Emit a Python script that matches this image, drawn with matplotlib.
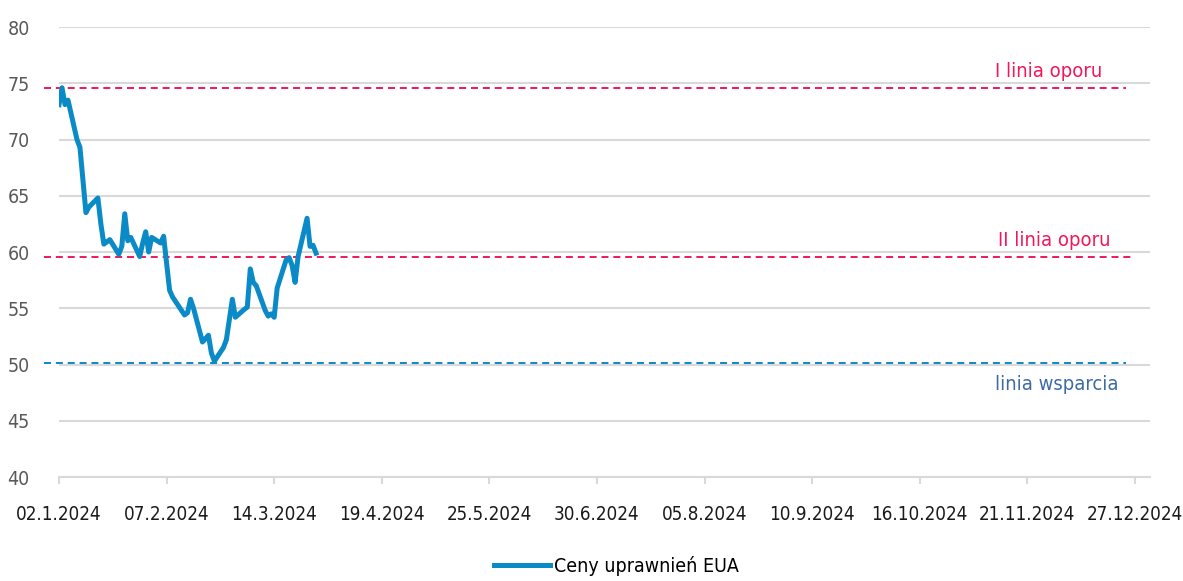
#!/usr/bin/env python3
"""EUA allowance prices with support / resistance lines."""

import matplotlib
matplotlib.use('Agg')
import matplotlib.pyplot as plt
import matplotlib.dates as mdates
import pandas as pd

# EUA prices, trading days 02.01.2024 - 28.03.2024
dates = pd.bdate_range('2024-01-02', '2024-03-28')
prices = [
    73.1, 74.6, 73.1, 73.5,                      # 2-5 Jan
    70.0, 69.3, 66.4, 63.5, 64.0,                # 8-12 Jan
    64.8, 62.5, 60.7, 60.9, 61.1,                # 15-19 Jan
    59.8, 60.5, 63.4, 61.0, 61.3,                # 22-26 Jan
    59.6, 60.8, 61.8, 60.0, 61.3,                # 29 Jan - 2 Feb
    60.8, 61.4, 59.0, 56.6, 56.0,                # 5-9 Feb
    54.8, 54.4, 54.6, 55.8, 55.0,                # 12-16 Feb
    52.0, 52.3, 52.6, 51.0, 50.3,                # 19-23 Feb
    51.5, 52.2, 54.0, 55.8, 54.2,                # 26 Feb - 1 Mar
    54.9, 55.1, 58.5, 57.3, 57.0,                # 4-8 Mar
    54.8, 54.3, 54.5, 54.2, 56.8,                # 11-15 Mar
    59.3, 59.5, 58.8, 57.3, 59.6,                # 18-22 Mar
    63.0, 60.5, 60.6, 59.9,                      # 25-28 Mar
]

# horizontal levels
levels = [74.6, 59.6, 50.1]
level_names = ['I linia oporu', 'II linia oporu', 'linia wsparcia']
level_start = pd.Timestamp('2023-12-28')
level_end = [pd.Timestamp('2024-12-24'), pd.Timestamp('2024-12-27'),
             pd.Timestamp('2024-12-24')]
label_dates = [pd.Timestamp('2024-11-28'), pd.Timestamp('2024-11-30'),
               pd.Timestamp('2024-12-01')]

x_ticks = pd.date_range('2024-01-02', '2024-12-27', freq='36D')
y_ticks = list(range(40, 81, 5))

BLUE = '#0a8ac6'
RED = '#f0185a'
TEXT_BLUE = '#3e6aa6'

plt.rcParams['font.family'] = ['DejaVu Sans']
plt.rcParams['font.stretch'] = 'condensed'

fig = plt.figure(figsize=(11.83, 5.81), dpi=100)
ax = fig.add_axes([0.0499, 0.179, 0.922, 0.7745])

level_colors = [RED, RED, BLUE]
for lvl, end, col in zip(levels, level_end, level_colors):
    ax.plot([level_start, end], [lvl, lvl], color=col, lw=1.4,
            dashes=(3.6, 2.5), clip_on=False, zorder=2)

ax.plot(dates, prices, color=BLUE, lw=3.6, zorder=3,
        solid_joinstyle='round', label='Ceny uprawnień EUA')

ax.text(label_dates[0], levels[0] + 0.6, level_names[0],
        color=RED, fontsize=14.5, ha='center', va='bottom')
ax.text(label_dates[1], levels[1] + 0.6, level_names[1],
        color=RED, fontsize=14.5, ha='center', va='bottom')
ax.text(label_dates[2], levels[2] - 1.0, level_names[2],
        color=TEXT_BLUE, fontsize=14.5, ha='center', va='top')

ax.set_xlim(pd.Timestamp('2024-01-02'), pd.Timestamp('2025-01-01'))
ax.set_ylim(40, 80)
ax.set_yticks(y_ticks)
ax.set_xticks(x_ticks)
ax.xaxis.set_major_formatter(
    plt.FuncFormatter(lambda v, p: (lambda d: f'{d.day:02d}.{d.month}.{d.year}')(mdates.num2date(v))))

ax.grid(axis='y', color='#d9d9d9', lw=1.5)
ax.set_axisbelow(True)
for side in ['top', 'right', 'left']:
    ax.spines[side].set_visible(False)
ax.spines['bottom'].set_color('#d9d9d9')
ax.spines['bottom'].set_linewidth(1.5)

ax.tick_params(axis='y', length=0, pad=21, labelsize=14, labelcolor='#595959')
ax.tick_params(axis='x', length=5, width=1.5, color='#d9d9d9', pad=15,
               labelsize=13.5, labelcolor='#1a1a1a')

fig.legend(loc='lower center', bbox_to_anchor=(0.521, -0.022), frameon=False,
           fontsize=14, handlelength=2.9, handletextpad=0.2)

fig.savefig('out.png', dpi=100)
plt.close(fig)
